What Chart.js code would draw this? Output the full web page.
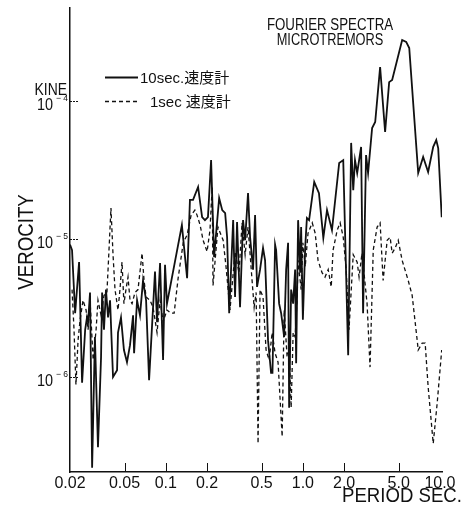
<!DOCTYPE html>
<html>
<head>
<meta charset="utf-8">
<script src="https://cdn.jsdelivr.net/npm/chart.js@4.4.0/dist/chart.umd.min.js"></script>
<style>
  html, body { margin: 0; padding: 0; background: #fff; }
  #chart { display: block; }
</style>
</head>
<body>
<canvas id="chart" width="472" height="511"></canvas>
<script>
// 10sec. 速度計 (solid)
const period10 = [
    0.0200, 0.0207, 0.0218, 0.0233, 0.0245, 0.0258, 0.0266, 0.0271, 0.0280, 0.0290,
    0.0304, 0.0320, 0.0337, 0.0343, 0.0354, 0.0366, 0.0379, 0.0392, 0.0412, 0.0441,
    0.0448, 0.0471, 0.0495, 0.0521, 0.0548, 0.0577, 0.0587, 0.0617, 0.0648, 0.0682,
    0.0718, 0.0755, 0.0834, 0.0863, 0.0908, 0.0955, 0.0987, 0.102, 0.131, 0.143,
    0.150, 0.158, 0.172, 0.184, 0.193, 0.203, 0.214, 0.225, 0.245, 0.258,
    0.271, 0.280, 0.290, 0.310, 0.320, 0.331, 0.348, 0.366, 0.379, 0.398,
    0.412, 0.433, 0.448, 0.463, 0.487, 0.512, 0.530, 0.557, 0.586, 0.600,
    0.627, 0.638, 0.671, 0.694, 0.730, 0.755, 0.780, 0.794, 0.821, 0.849,
    0.878, 0.893, 0.923, 0.955, 0.971, 1.00, 1.04, 1.07, 1.11, 1.21,
    1.31, 1.41, 1.50, 1.63, 1.84, 1.97, 2.14, 2.25, 2.33, 2.40,
    2.49, 2.66, 2.75, 2.89, 2.99, 3.20, 3.37, 3.66, 3.98, 4.26,
    4.48, 5.30, 5.67, 5.97, 6.94, 7.54, 8.20, 8.93, 9.40, 9.71,
    10.3
];
const vel10 = [
    9.1e-6, 8.3e-6, 2.9e-6, 6.8e-6, 9.1e-7, 2.2e-6, 2.7e-6, 2.5e-6, 4.1e-6, 2.2e-7,
    1.95e-6, 3.1e-7, 1.4e-6, 4.1e-6, 2.2e-6, 4.3e-6, 2.7e-6, 3.6e-6, 1.0e-6, 1.12e-6,
    2.1e-6, 2.7e-6, 1.57e-6, 1.28e-6, 1.7e-6, 2.8e-6, 1.49e-6, 3.6e-6, 2.8e-6, 5.0e-6,
    3.6e-6, 9.5e-7, 5.8e-6, 2.5e-6, 6.7e-6, 1.33e-6, 6.5e-6, 3.4e-6, 1.26e-5, 5.2e-6,
    1.92e-5, 1.92e-5, 2.38e-5, 1.44e-5, 1.37e-5, 1.44e-5, 3.73e-5, 7.4e-6, 1.98e-5, 1.62e-5,
    1.54e-5, 1.03e-5, 2.9e-6, 1.37e-5, 3.8e-6, 1.33e-5, 3.2e-6, 1.37e-5, 9.8e-6, 2.15e-5,
    1.03e-5, 6.0e-6, 1.49e-5, 4.5e-6, 6.0e-6, 8.6e-6, 7.0e-6, 1.85e-6, 1.07e-6, 1.07e-6,
    9.1e-6, 8.3e-6, 3.4e-6, 2.9e-6, 1.95e-6, 6.0e-6, 9.4e-6, 6.0e-7, 4.3e-6, 3.4e-6,
    6.0e-6, 1.26e-6, 1.37e-5, 5.7e-6, 1.22e-5, 2.6e-6, 8.8e-6, 1.42e-5, 1.37e-5, 2.59e-5,
    2.15e-5, 1.02e-5, 1.62e-5, 1.16e-5, 3.56e-5, 3.73e-5, 1.44e-6, 4.97e-5, 2.26e-5, 3.73e-5,
    3.01e-5, 4.65e-5, 2.9e-6, 4.06e-5, 3.01e-5, 6.37e-5, 7.05e-5, 1.76e-4, 5.96e-5, 1.37e-4,
    1.42e-4, 2.77e-4, 2.68e-4, 2.42e-4, 3.01e-5, 3.93e-5, 3.06e-5, 4.65e-5, 5.21e-5, 4.56e-5,
    1.44e-5
];

// 1sec 速度計 (dashed)
const period1 = [
    0.0207, 0.0214, 0.0221, 0.0229, 0.0237, 0.0249, 0.0262, 0.0271, 0.0280, 0.0295,
    0.0310, 0.0320, 0.0337, 0.0354, 0.0372, 0.0385, 0.0398, 0.0412, 0.0426, 0.0448,
    0.0463, 0.0479, 0.0495, 0.0512, 0.0530, 0.0548, 0.0567, 0.0596, 0.0627, 0.0671,
    0.0694, 0.0718, 0.0767, 0.0807, 0.0863, 0.0908, 0.0955, 0.102, 0.109, 0.115,
    0.123, 0.134, 0.143, 0.153, 0.163, 0.169, 0.178, 0.187, 0.200, 0.210,
    0.218, 0.221, 0.240, 0.262, 0.275, 0.294, 0.320, 0.342, 0.360, 0.379,
    0.398, 0.426, 0.441, 0.456, 0.471, 0.487, 0.512, 0.539, 0.567, 0.597,
    0.627, 0.659, 0.706, 0.730, 0.767, 0.794, 0.821, 0.849, 0.878, 0.908,
    0.923, 0.971, 1.00, 1.04, 1.09, 1.17, 1.23, 1.29, 1.38, 1.45,
    1.53, 1.61, 1.66, 1.78, 1.87, 1.97, 2.07, 2.17, 2.33, 2.49,
    2.57, 2.70, 2.84, 2.94, 3.09, 3.26, 3.48, 3.66, 3.85, 4.12,
    4.33, 4.48, 4.71, 4.96, 5.30, 5.87, 6.27, 6.82, 6.94, 7.42,
    7.80, 8.20, 8.93, 9.55, 10.3
];
const vel1 = [
    4.3e-6, 2.2e-6, 8.8e-7, 1.85e-6, 2.6e-6, 3.6e-6, 3.06e-6, 2.2e-6, 3.6e-6, 1.33e-6,
    2.2e-6, 3.6e-6, 2.8e-6, 3.9e-6, 4.1e-6, 8.3e-6, 1.68e-5, 7.7e-6, 4.3e-6, 3.06e-6,
    4.3e-6, 6.8e-6, 3.4e-6, 4.3e-6, 5.3e-6, 3.6e-6, 3.4e-6, 4.1e-6, 4.3e-6, 7.9e-6,
    5.0e-6, 3.8e-6, 3.6e-6, 3.2e-6, 2.1e-6, 3.6e-6, 2.5e-6, 3.06e-6, 2.9e-6, 2.9e-6,
    5.2e-6, 9.4e-6, 1.07e-5, 1.49e-5, 1.62e-5, 1.49e-5, 1.26e-5, 9.8e-6, 8.1e-6, 1.16e-5,
    2.38e-5, 4.6e-6, 1.22e-5, 9.8e-6, 6.3e-6, 3.06e-6, 8.1e-6, 5.7e-6, 1.31e-5, 7.7e-6,
    1.22e-5, 5.0e-6, 3.2e-6, 4.1e-6, 3.3e-7, 4.3e-6, 3.8e-6, 1.57e-6, 1.33e-6, 2.1e-6,
    1.49e-6, 1.28e-6, 3.7e-7, 3.06e-6, 1.4e-6, 1.57e-6, 6.0e-7, 2.1e-6, 1.95e-6, 3.8e-6,
    7.0e-6, 4.3e-6, 9.4e-6, 6.3e-6, 1.10e-5, 1.31e-5, 1.10e-5, 7.0e-6, 5.7e-6, 5.3e-6,
    6.0e-6, 4.5e-6, 8.3e-6, 1.16e-5, 1.31e-5, 1.03e-5, 6.0e-6, 2.2e-6, 7.7e-6, 6.8e-6,
    5.3e-6, 7.9e-6, 4.8e-6, 3.4e-6, 1.18e-6, 8.3e-6, 1.22e-5, 1.31e-5, 5.0e-6, 9.8e-6,
    1.03e-5, 7.9e-6, 8.6e-6, 9.8e-6, 7.0e-6, 5.0e-6, 3.9e-6, 1.85e-6, 1.57e-6, 1.76e-6,
    1.76e-6, 8.5e-7, 3.3e-7, 6.5e-7, 1.57e-6
];

const seriesNames = ['10sec.速度計', '1sec 速度計'];
const xTickValues = [0.02, 0.05, 0.1, 0.2, 0.5, 1, 2, 5, 10];
const xTickLabels = ['0.02', '0.05', '0.1', '0.2', '0.5', '1.0', '2.0', '5.0', '10.0'];
const yTickValues = [1e-6, 1e-5, 1e-4];
const yTickExponents = ['-6', '-5', '-4'];

const FONT = "'Liberation Sans', 'Noto Sans CJK JP', sans-serif";
const INK = '#111';

function toPoints(xs, ys) {
    return xs.map((x, i) => ({ x: x, y: ys[i] }));
}

// draws condensed text (the scan uses a narrow face)
function drawText(ctx, str, x, y, size, align, sx) {
    ctx.save();
    ctx.translate(x, y);
    ctx.scale(sx, 1);
    ctx.font = size + 'px ' + FONT;
    ctx.textAlign = align;
    ctx.textBaseline = 'alphabetic';
    ctx.fillText(str, 0, 0);
    ctx.restore();
}

const decorations = {
    id: 'decorations',
    afterDraw(chart) {
        const ctx = chart.ctx;
        const xs = chart.scales.x;
        const ys = chart.scales.y;
        ctx.save();
        ctx.strokeStyle = INK;
        ctx.fillStyle = INK;
        ctx.lineWidth = 1;

        // tick marks point inward
        xTickValues.slice(1, -1).forEach(v => {
            const px = Math.round(xs.getPixelForValue(v)) + 0.5;
            ctx.beginPath();
            ctx.moveTo(px, ys.bottom);
            ctx.lineTo(px, ys.bottom - 9);
            ctx.stroke();
        });
        ctx.setLineDash([2, 1]);
        yTickValues.forEach(v => {
            const py = Math.round(ys.getPixelForValue(v)) + 0.5;
            ctx.beginPath();
            ctx.moveTo(xs.left, py);
            ctx.lineTo(xs.left + 9, py);
            ctx.stroke();
        });
        ctx.setLineDash([]);

        // y tick labels 10^n
        yTickValues.forEach((v, i) => {
            const py = ys.getPixelForValue(v);
            drawText(ctx, '10', 53, py + 9, 17, 'right', 0.85);
            drawText(ctx, '\u2212 ' + yTickExponents[i].slice(1), 68, py, 9, 'right', 0.95);
        });
        drawText(ctx, 'KINE', 67, 95, 16, 'right', 0.87);

        // axis titles
        drawText(ctx, 'PERIOD SEC.', 342, 502, 20, 'left', 0.93);
        ctx.save();
        ctx.translate(33, 242);
        ctx.rotate(-Math.PI / 2);
        drawText(ctx, 'VEROCITY', 0, 0, 22, 'center', 0.85);
        ctx.restore();

        drawText(ctx, 'FOURIER SPECTRA', 330, 30, 16, 'center', 0.83);
        drawText(ctx, 'MICROTREMORS', 330, 45, 16, 'center', 0.8);

        // legend
        const legendRows = [{ y: 77, textX: 140 }, { y: 101, textX: 150 }];
        chart.data.datasets.slice().reverse().forEach((ds, i) => {
            const row = legendRows[i];
            ctx.save();
            ctx.lineWidth = ds.borderWidth;
            ctx.setLineDash(ds.borderDash || []);
            ctx.beginPath();
            ctx.moveTo(105, row.y + 0.5);
            ctx.lineTo(138, row.y + 0.5);
            ctx.stroke();
            ctx.restore();
            drawText(ctx, ds.label, row.textX, row.y + 6, 15, 'left', 1);
        });
        ctx.restore();
    }
};

new Chart(document.getElementById('chart').getContext('2d'), {
    type: 'line',
    data: {
        datasets: [
            {
                label: seriesNames[1],
                data: toPoints(period1, vel1),
                borderColor: INK,
                borderWidth: 1.3,
                borderDash: [4, 3],
                pointRadius: 0,
                tension: 0,
                fill: false
            },
            {
                label: seriesNames[0],
                data: toPoints(period10, vel10),
                borderColor: INK,
                borderWidth: 1.8,
                pointRadius: 0,
                tension: 0,
                fill: false
            }
        ]
    },
    options: {
        responsive: false,
        animation: false,
        layout: { padding: { left: 0, right: 30, top: 8, bottom: 0 } },
        plugins: {
            legend: { display: false },
            tooltip: { enabled: false }
        },
        scales: {
            x: {
                type: 'logarithmic',
                position: 'bottom',
                min: 0.02,
                max: 10.35,
                afterBuildTicks: scale => {
                    scale.ticks = xTickValues.map(v => ({ value: v }));
                },
                afterFit: scale => { scale.height = 39; },
                grid: { display: true, drawOnChartArea: false, drawTicks: false },
                border: { display: true, color: INK, width: 1.5 },
                ticks: {
                    autoSkip: false,
                    maxRotation: 0,
                    padding: 2,
                    color: INK,
                    font: { family: FONT, size: 16 },
                    callback: (v, i) => xTickLabels[i]
                }
            },
            y: {
                type: 'logarithmic',
                position: 'left',
                min: 2.05e-7,
                max: 4.72e-4,
                afterBuildTicks: scale => {
                    scale.ticks = yTickValues.map(v => ({ value: v }));
                },
                afterFit: scale => { scale.width = 70; },
                grid: { display: true, drawOnChartArea: false, drawTicks: false },
                border: { display: true, color: INK, width: 1.5 },
                ticks: { display: false }
            }
        }
    },
    plugins: [decorations]
});
</script>
</body>
</html>
